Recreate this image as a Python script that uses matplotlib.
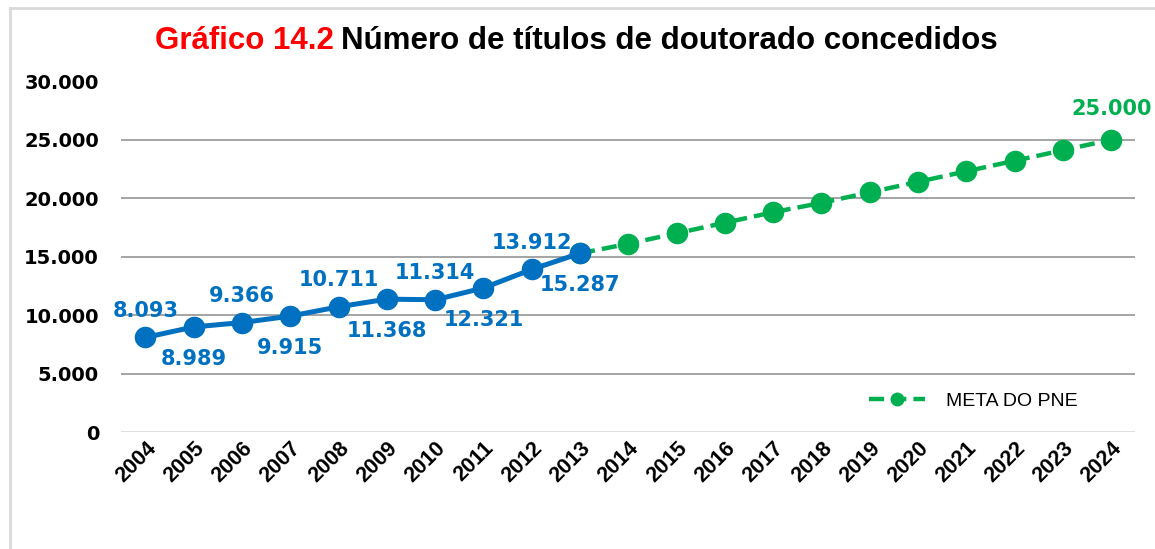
import matplotlib.pyplot as plt
from matplotlib.lines import Line2D

# dados
anos = [str(a) for a in range(2004, 2025)]
anos_titulos = anos[:10]            # 2004-2013
titulos = [8093, 8989, 9366, 9915, 10711, 11368, 11314, 12321, 13912, 15287]
rotulos_titulos = ['8.093', '8.989', '9.366', '9.915', '10.711', '11.368',
                   '11.314', '12.321', '13.912', '15.287']
anos_meta = anos[9:]                # 2013-2024
meta = [15287, 16100, 17000, 17900, 18800, 19600, 20500, 21400, 22300, 23200, 24100, 25000]
yticks = [0, 5000, 10000, 15000, 20000, 25000, 30000]
ytick_labels = ['0', '5.000', '10.000', '15.000', '20.000', '25.000', '30.000']

AZUL = '#0070C0'
VERDE = '#00B050'

fig = plt.figure(figsize=(11.55, 5.49), dpi=100)
ax = fig.add_axes([0.105, 0.213, 0.878, 0.639])

x = list(range(len(anos)))
x_tit = x[:10]
x_meta = x[9:]

ax.plot(x_meta, meta, color=VERDE, lw=3.2, ls=(0, (3.4, 1.6)), marker='o',
        markersize=14.5, zorder=3)
ax.plot(x_tit, titulos, color=AZUL, lw=3.6, marker='o', markersize=14.5, zorder=4)

# rótulos alternando acima / abaixo
for i, (xi, v, r) in enumerate(zip(x_tit, titulos, rotulos_titulos)):
    dy = 19 if i % 2 == 0 else -23
    ax.annotate(r, (xi, v), xytext=(0, dy), textcoords='offset points',
                ha='center', va='center', color=AZUL, fontsize=15,
                fontweight='bold', family='DejaVu Sans')
ax.annotate('25.000', (x_meta[-1], meta[-1]), xytext=(0, 22), textcoords='offset points',
            ha='center', va='center', color=VERDE, fontsize=15,
            fontweight='bold', family='DejaVu Sans')

ax.set_xlim(-0.5, len(anos) - 0.5)
ax.set_ylim(0, 30000)
ax.set_yticks(yticks)
ax.set_yticklabels(ytick_labels, fontsize=14, fontweight='bold', family='DejaVu Sans')
ax.set_xticks(x)
ax.set_xticklabels(anos, rotation=45, ha='right', rotation_mode='anchor',
                   fontsize=15.5, fontweight='bold', family='Liberation Sans')
ax.tick_params(axis='both', length=0)
ax.tick_params(axis='y', pad=16)
ax.tick_params(axis='x', pad=4)

for v in yticks[1:-1]:
    ax.axhline(v, color='#8C8C8C', lw=1.1, zorder=1)
ax.axhline(0, color='#D9D9D9', lw=1.2, zorder=1)
for s in ax.spines.values():
    s.set_visible(False)

# legenda
h = Line2D([], [], color=VERDE, lw=3.2, ls=(0, (3.4, 1.6)), marker='o', markersize=9)
ax.legend([h], ['META DO PNE'], loc='center left', bbox_to_anchor=(0.737, 0.088),
          frameon=False, prop={'family': 'Liberation Sans', 'size': 14},
          handlelength=2.9, handletextpad=1.1, borderpad=0, borderaxespad=0)

# título
r = fig.canvas.get_renderer()
t1 = fig.text(155 / 1155, 0.926, 'Gráfico 14.2', color='#FF0000', fontsize=22.5,
              fontweight='bold', family='Liberation Sans', ha='left', va='center')
bb = t1.get_window_extent(renderer=r)
fig.text(bb.x1 / fig.bbox.width + 0.006, 0.926, 'Número de títulos de doutorado concedidos',
         color='black', fontsize=22.5, fontweight='bold', family='Liberation Sans',
         ha='left', va='center')

# moldura parcial
fig.add_artist(Line2D([0.009, 1.0], [0.985, 0.985], color='#D9D9D9', lw=2))
fig.add_artist(Line2D([0.009, 0.009], [0.0, 0.985], color='#D9D9D9', lw=2))

fig.savefig('out.png', dpi=100)
